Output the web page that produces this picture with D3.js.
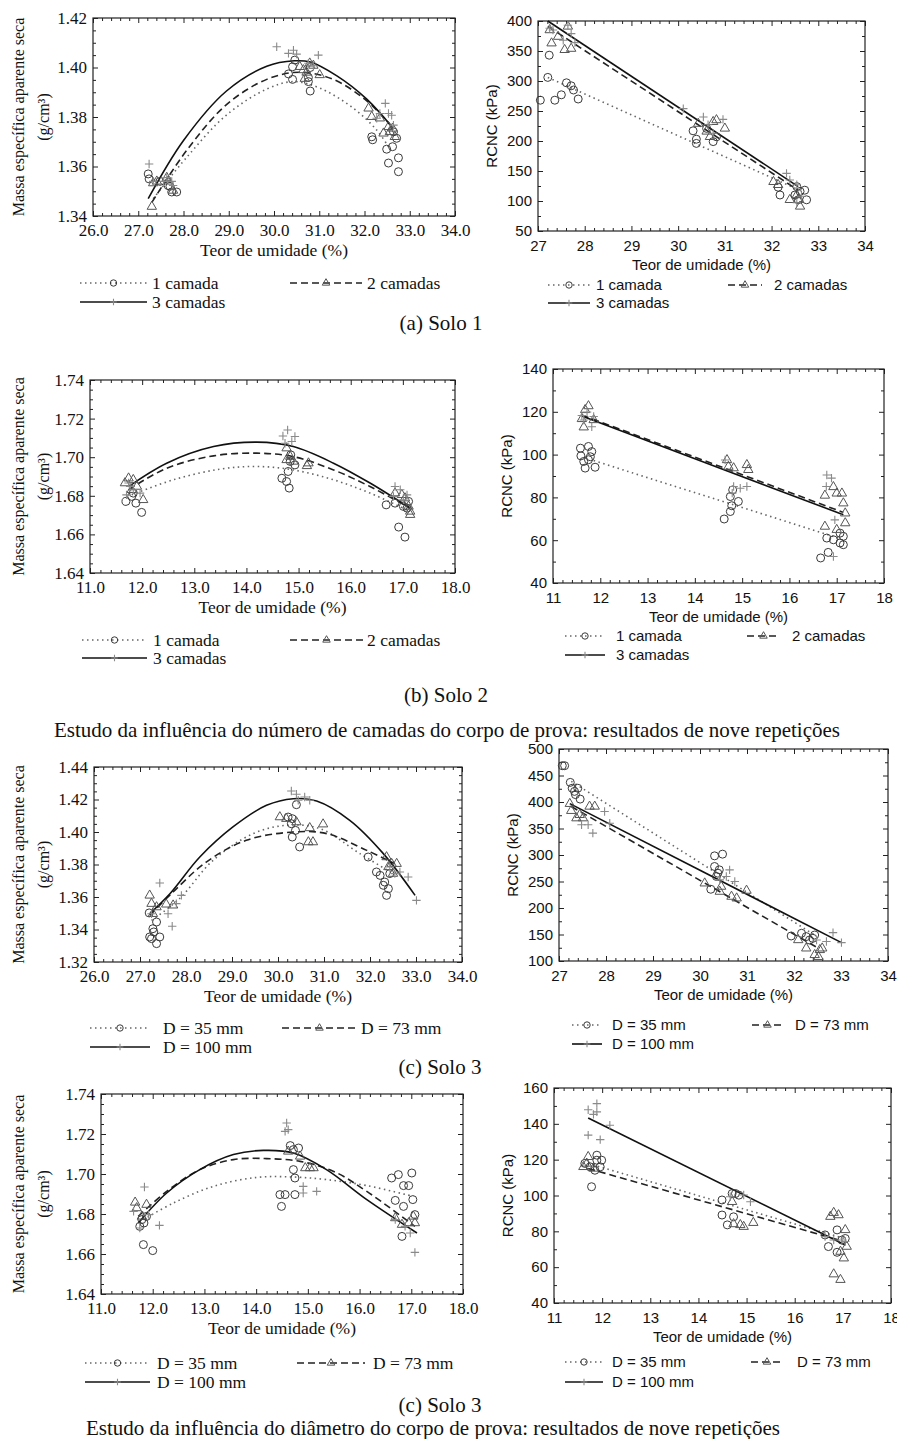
<!DOCTYPE html>
<html>
<head>
  <meta charset="utf-8">
  <title>Massa específica e RCNC vs teor de umidade</title>
  <script src="https://d3js.org/d3.v7.min.js"></script>
  <style>
    body { margin: 0; background: #fff; }
    svg { display: block; }
  </style>
</head>
<body>

  <svg width="897" height="1439"></svg>

  <script>
    // ---- Tick values ----
    const xTicksA = [26, 27, 28, 29, 30, 31, 32, 33, 34];
    const xTicksB = [11, 12, 13, 14, 15, 16, 17, 18];
    const yTicksDens1 = [1.34, 1.36, 1.38, 1.40, 1.42];
    const yTicksDens2 = [1.64, 1.66, 1.68, 1.70, 1.72, 1.74];
    const yTicksDens3 = [1.32, 1.34, 1.36, 1.38, 1.40, 1.42, 1.44];
    const yTicksR1 = [50, 100, 150, 200, 250, 300, 350, 400];
    const yTicksR2 = [40, 60, 80, 100, 120, 140];
    const yTicksR3 = [100, 150, 200, 250, 300, 350, 400, 450, 500];
    const yTicksR4 = [40, 60, 80, 100, 120, 140, 160];

    // ---- Legend labels ----
    const labelsCamadas = ["1 camada", "2 camadas", "3 camadas"];
    const labelsDiam = ["D = 35 mm", "D = 73 mm", "D = 100 mm"];

    // ---- (a) Solo 1: massa específica ----
    const a1C = [[27.22,1.357],[27.24,1.355],[27.48,1.354],[27.66,1.3523],[27.74,1.3497],[27.85,1.3497],[27.70,1.352],
                 [30.32,1.3974],[30.41,1.3952],[30.41,1.4003],[30.46,1.403],[30.76,1.3943],[30.80,1.3905],[30.76,1.396],[30.80,1.400],
                 [32.16,1.372],[32.18,1.3708],[32.49,1.367],[32.53,1.3614],[32.62,1.368],[32.71,1.3714],[32.75,1.3635],[32.75,1.3579],[32.64,1.374]];
    const a1T = [[27.30,1.3438],[27.41,1.354],[27.66,1.354],[27.63,1.3555],[27.77,1.3503],[27.33,1.3533],
                 [30.57,1.4003],[30.72,1.398],[30.87,1.4008],[31.01,1.397],[30.68,1.3955],[30.79,1.4017],[30.65,1.399],
                 [32.09,1.3835],[32.16,1.3801],[32.34,1.3795],[32.42,1.3734],[32.53,1.376],[32.62,1.3754],[32.67,1.372],[32.56,1.374]];
    const a1P = [[27.24,1.361],[27.56,1.354],[27.63,1.3555],[27.74,1.354],[27.33,1.354],[27.77,1.3523],
                 [30.06,1.4084],[30.32,1.4057],[30.43,1.407],[30.50,1.4054],[30.98,1.405],[30.76,1.4017],[30.87,1.4007],
                 [32.46,1.3855],[32.53,1.3814],[32.60,1.3807],[32.64,1.3767],[32.34,1.3814],[32.27,1.3795]];
    const a1FitC = [[27.33,1.347],[28.07,1.3637],[28.95,1.3808],[29.84,1.3913],[30.43,1.3943],[31.01,1.3917],[31.75,1.3836],[32.27,1.3747],[32.53,1.368]];
    const a1FitT = [[27.30,1.3455],[28.07,1.3665],[28.95,1.385],[29.84,1.3952],[30.57,1.3981],[31.31,1.3952],[32.05,1.3865],[32.64,1.3754]];
    const a1FitP = [[27.22,1.347],[28.0,1.3705],[28.95,1.3905],[29.84,1.4005],[30.45,1.4027],[30.8,1.4022],[31.39,1.3966],[32.05,1.3872],[32.62,1.3757]];

    // ---- (a) Solo 1: RCNC ----
    const a2C = [[27.21,306],[27.24,343],[27.05,268],[27.36,268],[27.50,277],[27.61,297],[27.71,292],[27.76,285],[27.86,270],
                 [30.32,217],[30.39,203],[30.39,196],[30.75,199],[30.82,207],[30.61,221],
                 [32.14,123],[32.18,110],[32.50,110],[32.61,116],[32.71,118],[32.75,102],[32.57,102],[32.54,124]];
    const a2T = [[27.29,363],[27.57,352],[27.71,354],[27.64,391],[27.25,385],[27.43,374],
                 [30.43,229],[30.75,232],[30.82,235],[31.00,221],[30.68,207],[30.61,216],
                 [32.04,132],[32.14,127],[32.54,110],[32.61,91],[32.57,102],[32.39,102]];
    const a2P = [[27.32,385],[27.25,388],[27.54,368],[27.64,393],[27.71,379],[27.79,364],
                 [30.11,254],[30.54,240],[30.64,227],[30.96,236],[30.75,213],
                 [32.32,146],[32.39,135],[32.54,127],[32.64,108],[32.54,97]];
    const a2FitC = [[27.21,306],[32.6,118]];
    const a2FitT = [[27.21,391],[32.57,118]];
    const a2FitP = [[27.21,400],[32.57,124]];

    // ---- (b) Solo 2: massa específica ----
    const b1C = [[11.69,1.6771],[11.80,1.6797],[11.88,1.6762],[11.99,1.6714],[11.83,1.6814],
                 [14.68,1.6891],[14.77,1.6874],[14.82,1.684],[14.80,1.6926],[14.93,1.696],[14.84,1.6978],[14.85,1.7012],
                 [16.68,1.6753],[16.85,1.6762],[16.92,1.6638],[17.04,1.6586],[17.01,1.6745],[17.11,1.6771],[17.08,1.6736]];
    const b1T = [[11.74,1.6891],[11.83,1.6883],[11.67,1.6866],[11.90,1.6848],[12.02,1.6779],[11.80,1.6831],
                 [14.77,1.7047],[14.84,1.7003],[15.16,1.6955],[15.19,1.6969],[14.77,1.6986],[14.90,1.6978],
                 [16.85,1.6814],[16.98,1.6805],[17.04,1.6788],[17.14,1.6719],[17.14,1.6702],[17.11,1.6745]];
    const b1P = [[11.77,1.6848],[11.70,1.6805],[11.83,1.6831],[11.96,1.6814],[11.74,1.6866],
                 [14.70,1.711],[14.79,1.7141],[14.93,1.7107],[14.87,1.7081],[14.74,1.7072],
                 [16.85,1.6848],[16.95,1.6831],[16.82,1.6797],[17.01,1.6779],[17.08,1.6805]];
    const b1FitC = [[11.80,1.6805],[12.6,1.6883],[13.49,1.6938],[14.2,1.6952],[14.9,1.6934],[15.67,1.6883],[16.37,1.6814],[17.14,1.6719]];
    const b1FitT = [[11.74,1.6831],[12.47,1.6943],[13.37,1.7007],[14.2,1.7021],[14.9,1.7003],[15.67,1.6934],[16.37,1.6848],[17.14,1.6736]];
    const b1FitP = [[11.74,1.6848],[12.47,1.6969],[13.37,1.7055],[14.2,1.7078],[14.9,1.7055],[15.67,1.6969],[16.37,1.6866],[17.14,1.6736]];

    // ---- (b) Solo 2: RCNC ----
    const b2C = [[11.58,103],[11.59,99.4],[11.65,96.8],[11.68,93.7],[11.75,97.6],[11.75,103.8],[11.82,101.4],[11.89,94.1],[11.79,99],
                 [14.62,69.9],[14.75,73.4],[14.78,76.1],[14.92,78.1],[14.80,83.5],[14.75,80.4],
                 [16.66,51.7],[16.82,54.3],[16.79,61],[16.93,60.2],[17.07,58.7],[17.14,57.9],[17.07,63.3],[17.14,61.8]];
    const b2T = [[11.65,112.8],[11.68,120.9],[11.75,122.7],[11.86,116.2],[11.61,116.7],
                 [14.68,97.5],[14.71,94.4],[15.10,95.2],[15.13,92.9],[14.82,93.7],
                 [16.75,80.9],[16.93,84.9],[17.00,81.9],[17.11,81.9],[17.14,77.3],[17.18,72.6],[16.75,66.4],[17.18,68],[17.00,64.9]];
    const b2P = [[11.61,118.3],[11.72,119.9],[11.82,113],[11.65,116.2],[11.86,117.8],
                 [14.64,97.5],[14.82,85.1],[14.96,84.3],[15.10,85.1],[14.79,82],
                 [16.79,90.5],[16.89,89],[16.78,85.1],[16.96,69.5],[16.93,52.4]];
    const b2FitC = [[11.86,97.2],[17.04,61]];
    const b2FitT = [[11.61,118.5],[17.14,73]];
    const b2FitP = [[11.61,118],[17.14,71.9]];

    // ---- (c) Solo 3: massa específica (diâmetros, 26-34 %) ----
    const c1C = [[27.20,1.3502],[27.21,1.3354],[27.30,1.3385],[27.36,1.3313],[27.43,1.3354],[27.36,1.3446],[27.28,1.3405],[27.25,1.3344],
                 [30.22,1.4092],[30.31,1.4082],[30.40,1.4168],[30.38,1.401],[30.31,1.3969],[30.47,1.3908],[30.29,1.4051],
                 [31.96,1.3846],[32.14,1.3754],[32.22,1.3733],[32.29,1.3672],[32.36,1.361],[32.40,1.3651],[32.43,1.3744],[32.32,1.3692]];
    const c1T = [[27.21,1.361],[27.25,1.3559],[27.36,1.3538],[27.57,1.3555],[27.72,1.3549],[27.28,1.3497],
                 [30.04,1.4092],[30.18,1.4082],[30.40,1.4061],[30.66,1.3938],[30.76,1.3938],[30.98,1.4048],[30.69,1.4025],
                 [32.36,1.3846],[32.47,1.3805],[32.58,1.3805],[32.50,1.3744],[32.40,1.3785]];
    const c1P = [[27.43,1.3686],[27.25,1.3497],[27.61,1.3497],[27.70,1.342],[27.79,1.3559],[27.90,1.361],
                 [30.29,1.4252],[30.40,1.4232],[30.58,1.4215],[30.69,1.4195],[30.44,1.4195],
                 [32.43,1.3785],[32.65,1.3754],[32.83,1.3723],[33.01,1.3579],[32.54,1.3744]];
    const c1FitC = [[27.25,1.3456],[27.86,1.359],[28.59,1.3826],[29.46,1.399],[30.18,1.4041],[30.91,1.4021],[31.78,1.3867],[32.5,1.3744]];
    const c1FitT = [[27.21,1.3487],[27.72,1.3631],[28.44,1.3815],[29.31,1.3949],[30.33,1.4],[31.06,1.399],[31.93,1.3887],[32.54,1.3805]];
    const c1FitP = [[27.21,1.3497],[27.65,1.362],[28.3,1.3846],[29.02,1.4031],[29.75,1.4164],[30.33,1.4205],[30.84,1.4191],[31.56,1.4072],[32.29,1.3867],[32.98,1.361]];

    // ---- (c) Solo 3: RCNC ----
    const c2C = [[27.07,468.5],[27.12,468.5],[27.24,437],[27.28,426],[27.40,426],[27.35,414],[27.45,405.5],[27.33,420],
                 [30.31,298.4],[30.48,301.6],[30.31,278.3],[30.38,265.7],[30.41,272],[30.23,235.4],[30.35,259.5],
                 [31.94,147.2],[32.16,152.3],[32.26,146],[32.40,142.8],[32.44,149],[32.33,139.6]];
    const c2T = [[27.23,396.7],[27.26,383.5],[27.44,375.9],[27.37,369.6],[27.51,369.6],[27.65,391.6],[27.76,391.6],
                 [30.10,246.7],[30.42,231],[30.45,240.5],[30.67,221.6],[30.78,218.4],[30.99,233],
                 [32.09,139.7],[32.26,124],[32.44,111.6],[32.55,121],[32.60,124],[32.52,108]];
    const c2P = [[27.48,357],[27.62,357],[27.72,341.3],[27.97,382.2],[28.08,360],
                 [30.63,272],[30.74,250],[30.56,259.5],[30.42,253.1],
                 [32.48,139.7],[32.83,153.5],[32.69,136.7],[33.01,134.6]];
    const c2FitC = [[27.26,439],[32.44,149]];
    const c2FitT = [[27.26,391.6],[32.52,124]];
    const c2FitP = [[27.23,397],[33.01,134.6]];

    // ---- (c) Solo 3: massa específica (11-18 %) ----
    const d1C = [[11.82,1.6647],[12.00,1.6617],[11.75,1.6738],[11.83,1.6755],[11.88,1.6788],[11.79,1.6772],
                 [14.46,1.6897],[14.56,1.6897],[14.75,1.6897],[14.49,1.6838],[14.66,1.7142],[14.72,1.7122],[14.82,1.713],[14.75,1.698],[14.72,1.7022],
                 [16.62,1.698],[16.75,1.6997],[16.85,1.6942],[16.95,1.6942],[17.01,1.7005],[17.03,1.6872],[16.69,1.6868],[16.82,1.6688],[16.85,1.6838],[17.07,1.6797]];
    const d1T = [[11.66,1.6858],[11.69,1.683],[11.88,1.6847],[11.79,1.6788],
                 [14.62,1.7113],[14.85,1.7088],[14.95,1.703],[15.04,1.703],[15.11,1.703],
                 [16.69,1.678],[16.82,1.6747],[16.95,1.6755],[17.07,1.6755],[17.04,1.6788]];
    const d1P = [[11.84,1.6935],[12.13,1.6743],[11.75,1.673],[11.63,1.6813],[11.92,1.6797],
                 [14.59,1.7255],[14.56,1.7213],[14.62,1.7222],[14.91,1.6938],[14.91,1.6905],[15.17,1.6913],
                 [16.69,1.6772],[17.07,1.6608],[16.98,1.6705],[16.88,1.6738]];
    const d1FitC = [[11.82,1.6772],[12.4,1.6855],[13.17,1.6938],[14.01,1.6983],[14.72,1.6985],[15.36,1.6972],[16.14,1.6942],[17.04,1.6888]];
    const d1FitT = [[11.72,1.6788],[12.27,1.6913],[12.91,1.7022],[13.56,1.7072],[14.2,1.7077],[14.85,1.7063],[15.5,1.7013],[16.14,1.6913],[17.07,1.6738]];
    const d1FitP = [[11.72,1.6755],[12.27,1.6905],[12.91,1.7022],[13.56,1.7097],[14.14,1.7118],[14.72,1.7105],[15.36,1.7022],[16.14,1.6872],[17.11,1.6705]];

    // ---- (c) Solo 3: RCNC (11-18 %) ----
    const d2C = [[11.78,104.9],[11.64,117.9],[11.75,116],[11.89,119.7],[11.99,119.7],[11.89,122.5],[11.85,114.1],[11.96,116],
                 [14.49,97.5],[14.49,89.1],[14.60,83.6],[14.73,88.1],[14.70,101.1],[14.77,101.1],[14.84,100.2],
                 [16.63,78],[16.70,71.5],[16.88,80.8],[16.88,68.3],[16.98,75.1],[17.05,76]];
    const d2T = [[11.61,116],[11.71,121.6],[11.82,115.1],[11.68,117.9],
                 [14.70,96.5],[14.73,84.1],[14.87,83.6],[14.94,82.6],[15.14,84.8],
                 [16.74,88.2],[16.81,90.4],[16.91,89.1],[16.81,56.1],[16.95,53],[17.02,65],[17.05,80.8],[17.08,71.5],[16.95,68.7]];
    const d2P = [[11.71,147.9],[11.89,151.3],[11.89,146.7],[11.71,133.7],[11.96,131.2],[12.16,139.2],[11.82,145.3],
                 [14.94,100.3],[14.66,99.3],[15.08,96.5],
                 [16.63,77.1],[16.81,75.2],[16.98,75.2],[17.05,74.3]];
    const d2FitC = [[11.71,117.9],[17.02,76.1]];
    const d2FitT = [[11.71,115.1],[16.91,75.2]];
    const d2FitP = [[11.71,143.3],[17.05,72.4]];

    // ---- Layout ----
    const SERIF = "'Liberation Serif', 'Times New Roman', serif";
    const SANS = "'Liberation Sans', Arial, sans-serif";
    const svg = d3.select("svg");

    const dens = (l, t, r, b) => ({ left: l, top: t, right: r, bottom: b, serif: true });
    const rcnc = (l, t, r, b) => ({ left: l, top: t, right: r, bottom: b, serif: false });

    const panels = [
      { ...dens(93, 18, 455, 216), xd: [26, 34], xt: xTicksA, yd: [1.34, 1.42], yt: yTicksDens1,
        data: [a1C, a1T, a1P], fits: [a1FitC, a1FitT, a1FitP], labels: labelsCamadas,
        leg: { y: [283, 302], items: [[80, 147, 152], [290, 362, 367], [80, 147, 152]] } },
      { ...rcnc(538, 21, 865, 231), xd: [27, 34], xt: xTicksA.slice(1), yd: [50, 400], yt: yTicksR1,
        data: [a2C, a2T, a2P], fits: [a2FitC, a2FitT, a2FitP], labels: labelsCamadas,
        leg: { y: [285, 303], items: [[548, 590, 596], [728, 762, 774], [548, 590, 596]] } },
      { ...dens(90, 380, 455, 573), xd: [11, 18], xt: xTicksB, yd: [1.64, 1.74], yt: yTicksDens2,
        data: [b1C, b1T, b1P], fits: [b1FitC, b1FitT, b1FitP], labels: labelsCamadas,
        leg: { y: [640, 658], items: [[82, 147, 153], [290, 363, 367], [82, 147, 153]] } },
      { ...rcnc(553, 369, 884, 583), xd: [11, 18], xt: xTicksB, yd: [40, 140], yt: yTicksR2,
        data: [b2C, b2T, b2P], fits: [b2FitC, b2FitT, b2FitP], labels: labelsCamadas,
        leg: { y: [636, 655], items: [[565, 605, 616], [747, 780, 792], [565, 605, 616]] } },
      { ...dens(94, 767, 462, 962), xd: [26, 34], xt: xTicksA, yd: [1.32, 1.44], yt: yTicksDens3,
        data: [c1C, c1T, c1P], fits: [c1FitC, c1FitT, c1FitP], labels: labelsDiam,
        leg: { y: [1028, 1047], items: [[90, 150, 163], [282, 357, 361], [90, 150, 163]] } },
      { ...rcnc(559, 749, 888, 961), xd: [27, 34], xt: xTicksA.slice(1), yd: [100, 500], yt: yTicksR3,
        data: [c2C, c2T, c2P], fits: [c2FitC, c2FitT, c2FitP], labels: labelsDiam,
        leg: { y: [1025, 1044], items: [[572, 602, 612], [752, 783, 795], [572, 602, 612]] } },
      { ...dens(101, 1094, 463, 1294), xd: [11, 18], xt: xTicksB, yd: [1.64, 1.74], yt: yTicksDens2,
        data: [d1C, d1T, d1P], fits: [d1FitC, d1FitT, d1FitP], labels: labelsDiam,
        leg: { y: [1363, 1382], items: [[85, 150, 157], [297, 365, 373], [85, 150, 157]] } },
      { ...rcnc(554, 1088, 891, 1303), xd: [11, 18], xt: xTicksB, yd: [40, 160], yt: yTicksR4,
        data: [d2C, d2T, d2P], fits: [d2FitC, d2FitT, d2FitP], labels: labelsDiam,
        leg: { y: [1362, 1382], items: [[565, 603, 612], [751, 783, 797], [565, 603, 612]] } }
    ];

    // series styles: 0 = circle / dotted, 1 = triangle / dashed, 2 = plus / solid
    const lineStyle = [
      { stroke: "#666", width: 1.6, dash: "1.5,3.5" },
      { stroke: "#222", width: 1.6, dash: "7,4" },
      { stroke: "#111", width: 1.6, dash: null }
    ];
    const markStroke = ["#3a3a3a", "#555", "#8a8a8a"];

    function drawMarker(g, kind, cx, cy, s) {
      if (kind === 0) {
        g.append("circle").attr("cx", cx).attr("cy", cy).attr("r", 4 * s)
          .attr("fill", "none").attr("stroke", markStroke[0]).attr("stroke-width", 1);
      } else if (kind === 1) {
        g.append("path").attr("transform", `translate(${cx},${cy})`)
          .attr("d", d3.symbol().type(d3.symbolTriangle).size(38 * s * s)())
          .attr("fill", "none").attr("stroke", markStroke[1]).attr("stroke-width", 1);
      } else {
        const h = 4.2 * s;
        g.append("path").attr("transform", `translate(${cx},${cy})`)
          .attr("d", `M${-h},0H${h}M0,${-h}V${h}`)
          .attr("fill", "none").attr("stroke", markStroke[2]).attr("stroke-width", 1.1);
      }
    }

    function minorTicks(ticks, n) {
      const out = [];
      const step = (ticks[1] - ticks[0]) / n;
      for (let i = 0; i < ticks.length - 1; i++)
        for (let k = 1; k < n; k++) out.push(ticks[i] + k * step);
      return out;
    }

    panels.forEach(p => {
      const font = p.serif ? SERIF : SANS;
      const fs = p.serif ? 17.5 : 15;
      const x = d3.scaleLinear().domain(p.xd).range([p.left, p.right]);
      const y = d3.scaleLinear().domain(p.yd).range([p.bottom, p.top]);
      const g = svg.append("g");
      const xFmt = p.serif ? d3.format(".1f") : d3.format("d");
      const yFmt = p.serif ? d3.format(".2f") : d3.format("d");
      const xMinor = minorTicks(p.xt, 5);
      const yMinor = minorTicks(p.yt, p.serif ? 4 : 2);

      const axes = [
        [d3.axisBottom(x).tickValues(p.xt).tickFormat(xFmt).tickSize(-5).tickPadding(p.serif ? 8 : 9), p.bottom, "x"],
        [d3.axisBottom(x).tickValues(xMinor).tickFormat("").tickSize(-3), p.bottom, "x"],
        [d3.axisTop(x).tickValues(p.xt).tickFormat("").tickSize(-5), p.top, "x"],
        [d3.axisTop(x).tickValues(xMinor).tickFormat("").tickSize(-3), p.top, "x"],
        [d3.axisLeft(y).tickValues(p.yt).tickFormat(yFmt).tickSize(-5).tickPadding(6), p.left, "y"],
        [d3.axisLeft(y).tickValues(yMinor).tickFormat("").tickSize(-3), p.left, "y"],
        [d3.axisRight(y).tickValues(p.yt).tickFormat("").tickSize(-5), p.right, "y"],
        [d3.axisRight(y).tickValues(yMinor).tickFormat("").tickSize(-3), p.right, "y"]
      ];
      axes.forEach(([ax, pos, dir]) => {
        const a = g.append("g")
          .attr("transform", dir === "x" ? `translate(0,${pos})` : `translate(${pos},0)`)
          .call(ax);
        a.select(".domain").remove();
        a.selectAll("line").attr("stroke", "#222");
        a.attr("font-family", font).attr("font-size", p.serif ? 17 : 15);
        a.selectAll("text").attr("fill", "#111");
      });

      // frame
      g.append("rect")
        .attr("x", p.left).attr("y", p.top)
        .attr("width", p.right - p.left).attr("height", p.bottom - p.top)
        .attr("fill", "none").attr("stroke", "#222").attr("stroke-width", 1.2);

      // axis titles
      g.append("text")
        .attr("x", (p.left + p.right) / 2).attr("y", p.bottom + 34)
        .attr("dy", "0.35em").attr("text-anchor", "middle")
        .attr("font-family", font).attr("font-size", fs).attr("fill", "#111")
        .text("Teor de umidade (%)");
      const ym = (p.top + p.bottom) / 2;
      if (p.serif) {
        g.append("text")
          .attr("transform", `translate(18,${ym}) rotate(-90)`)
          .attr("dy", "0.35em").attr("text-anchor", "middle")
          .attr("font-family", font).attr("font-size", 16).attr("fill", "#111")
          .text("Massa específica aparente seca");
        g.append("text")
          .attr("transform", `translate(43,${ym}) rotate(-90)`)
          .attr("dy", "0.35em").attr("text-anchor", "middle")
          .attr("font-family", font).attr("font-size", 16).attr("fill", "#111")
          .text("(g/cm³)");
      } else {
        g.append("text")
          .attr("transform", `translate(${p.left - 46},${ym}) rotate(-90)`)
          .attr("dy", "0.35em").attr("text-anchor", "middle")
          .attr("font-family", font).attr("font-size", 15).attr("fill", "#111")
          .text("RCNC (kPa)");
      }

      // fitted curves
      const line = d3.line().x(d => x(d[0])).y(d => y(d[1])).curve(d3.curveCatmullRom);
      p.fits.forEach((f, i) => {
        const st = lineStyle[i];
        g.append("path").datum(f).attr("d", line)
          .attr("fill", "none").attr("stroke", st.stroke)
          .attr("stroke-width", st.width).attr("stroke-dasharray", st.dash);
      });

      // data points
      p.data.forEach((pts, i) => {
        pts.forEach(d => drawMarker(g, i, x(d[0]), y(d[1]), 1));
      });

      // legend
      p.leg.items.forEach((it, i) => {
        const ly = p.leg.y[i === 2 ? 1 : 0];
        const st = lineStyle[i];
        g.append("line")
          .attr("x1", it[0]).attr("x2", it[1]).attr("y1", ly).attr("y2", ly)
          .attr("stroke", st.stroke).attr("stroke-width", st.width).attr("stroke-dasharray", st.dash);
        drawMarker(g, i, (it[0] + it[1]) / 2, ly, 0.8);
        g.append("text")
          .attr("x", it[2]).attr("y", ly).attr("dy", "0.35em")
          .attr("font-family", font).attr("font-size", fs).attr("fill", "#111")
          .text(p.labels[i]);
      });
    });

    // captions
    const captions = [
      ["(a) Solo 1", 441, 323],
      ["(b) Solo 2", 446, 695],
      ["Estudo da influência do número de camadas do corpo de prova: resultados de nove repetições", 447, 730],
      ["(c) Solo 3", 440, 1067],
      ["(c) Solo 3", 440, 1405],
      ["Estudo da influência do diâmetro do corpo de prova: resultados de nove repetições", 433, 1428]
    ];
    svg.selectAll("text.caption")
      .data(captions)
      .enter()
      .append("text")
      .attr("class", "caption")
      .attr("x", d => d[1]).attr("y", d => d[2]).attr("dy", "0.35em")
      .attr("text-anchor", "middle")
      .attr("font-family", SERIF).attr("font-size", 21).attr("fill", "#111")
      .text(d => d[0]);
  </script>

</body>
</html>
